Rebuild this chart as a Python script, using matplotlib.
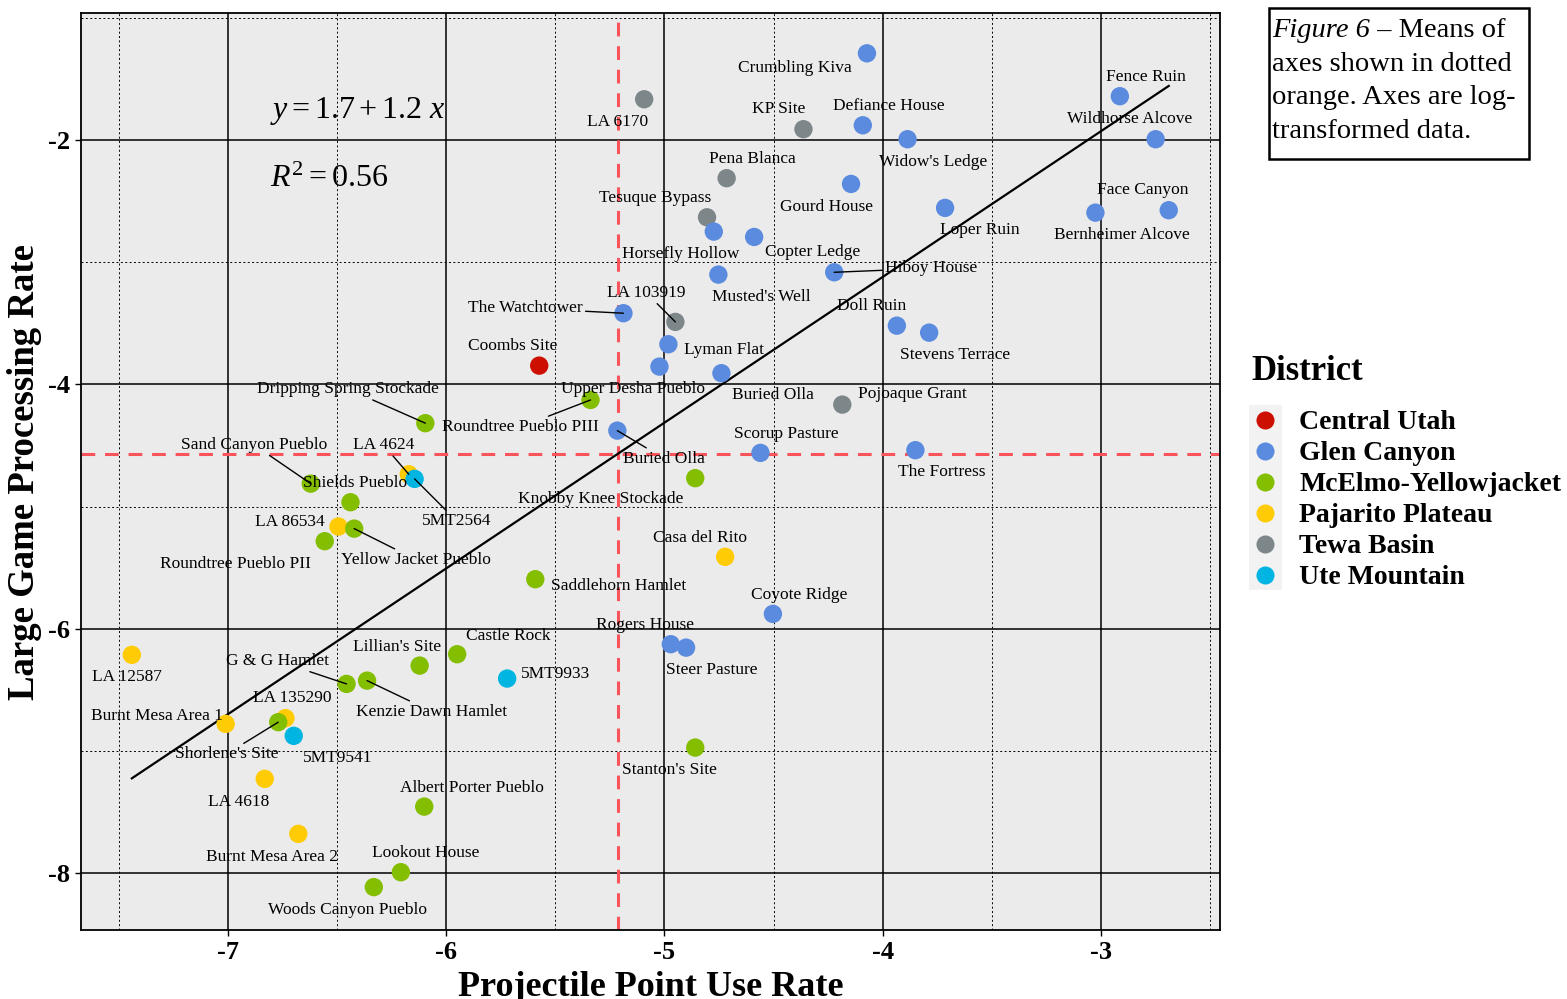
import numpy as np
import matplotlib
matplotlib.use("Agg")
import matplotlib.pyplot as plt
from matplotlib.ticker import MultipleLocator
from matplotlib.lines import Line2D
from matplotlib.patches import Rectangle

plt.rcParams["font.family"] = ["Liberation Serif", "DejaVu Serif"]
plt.rcParams["mathtext.fontset"] = "custom"
plt.rcParams["mathtext.rm"] = "Liberation Serif"
plt.rcParams["mathtext.it"] = "Liberation Serif:italic"

# --- data (log-transformed rates) ---
districts = ["Central Utah", "Glen Canyon", "McElmo-Yellowjacket",
             "Pajarito Plateau", "Tewa Basin", "Ute Mountain"]
district_colors = ["#CC0F00", "#5B8BDF", "#84BE00", "#FFCB05", "#7D878A", "#00B5E2"]

site_names = [
    "Crumbling Kiva", "Fence Ruin", "Defiance House", "Widow's Ledge", "Wildhorse Alcove",
    "Gourd House", "Loper Ruin", "Face Canyon", "Bernheimer Alcove", "Pena Blanca",
    "Tesuque Bypass", "Horsefly Hollow", "Copter Ledge", "Hiboy House", "Musted's Well",
    "LA 6170", "KP Site", "LA 103919", "The Watchtower", "Lyman Flat",
    "Upper Desha Pueblo", "Buried Olla", "Doll Ruin", "Stevens Terrace", "Pojoaque Grant",
    "Scorup Pasture", "The Fortress", "Buried Olla", "Roundtree Pueblo PIII",
    "Dripping Spring Stockade", "Coombs Site", "Knobby Knee Stockade", "Casa del Rito",
    "Saddlehorn Hamlet", "Coyote Ridge", "Rogers House", "Steer Pasture", "Stanton's Site",
    "5MT9933", "Sand Canyon Pueblo", "Shields Pueblo", "LA 4624", "5MT2564", "LA 86534",
    "Yellow Jacket Pueblo", "Roundtree Pueblo PII", "LA 12587", "Castle Rock",
    "Lillian's Site", "G & G Hamlet", "Kenzie Dawn Hamlet", "LA 135290", "Shorlene's Site",
    "Burnt Mesa Area 1", "5MT9541", "LA 4618", "Burnt Mesa Area 2", "Albert Porter Pueblo",
    "Lookout House", "Woods Canyon Pueblo",
]
site_district = [
    "Glen Canyon", "Glen Canyon", "Glen Canyon", "Glen Canyon", "Glen Canyon",
    "Glen Canyon", "Glen Canyon", "Glen Canyon", "Glen Canyon", "Tewa Basin",
    "Tewa Basin", "Glen Canyon", "Glen Canyon", "Glen Canyon", "Glen Canyon",
    "Tewa Basin", "Tewa Basin", "Tewa Basin", "Glen Canyon", "Glen Canyon",
    "Glen Canyon", "Glen Canyon", "Glen Canyon", "Glen Canyon", "Tewa Basin",
    "Glen Canyon", "Glen Canyon", "Glen Canyon", "McElmo-Yellowjacket",
    "McElmo-Yellowjacket", "Central Utah", "McElmo-Yellowjacket", "Pajarito Plateau",
    "McElmo-Yellowjacket", "Glen Canyon", "Glen Canyon", "Glen Canyon", "McElmo-Yellowjacket",
    "Ute Mountain", "McElmo-Yellowjacket", "McElmo-Yellowjacket", "Pajarito Plateau",
    "Ute Mountain", "Pajarito Plateau", "McElmo-Yellowjacket", "McElmo-Yellowjacket",
    "Pajarito Plateau", "McElmo-Yellowjacket", "McElmo-Yellowjacket", "McElmo-Yellowjacket",
    "McElmo-Yellowjacket", "Pajarito Plateau", "McElmo-Yellowjacket", "Pajarito Plateau",
    "Ute Mountain", "Pajarito Plateau", "Pajarito Plateau", "McElmo-Yellowjacket",
    "McElmo-Yellowjacket", "McElmo-Yellowjacket",
]
point_use = [
    -4.072, -2.913, -4.091, -3.886, -2.749, -4.145, -3.714, -2.689, -3.025, -4.715,
    -4.805, -4.774, -4.589, -4.222, -4.753, -5.093, -4.363, -4.950, -5.188, -4.982,
    -5.023, -4.739, -3.935, -3.787, -4.185, -4.560, -3.850, -5.216, -5.339, -6.096,
    -5.574, -4.859, -4.722, -5.592, -4.503, -4.971, -4.901, -4.859, -5.721, -6.621,
    -6.439, -6.172, -6.145, -6.494, -6.422, -6.557, -7.441, -5.950, -6.122, -6.457,
    -6.363, -6.737, -6.770, -7.011, -6.699, -6.832, -6.678, -6.101, -6.208, -6.332,
]
game_processing = [
    -1.291, -1.642, -1.880, -1.994, -1.994, -2.360, -2.556, -2.575, -2.595, -2.313,
    -2.633, -2.750, -2.794, -3.083, -3.102, -1.667, -1.912, -3.489, -3.418, -3.672,
    -3.855, -3.909, -3.520, -3.577, -4.166, -4.561, -4.539, -4.379, -4.128, -4.318,
    -3.847, -4.768, -5.412, -5.595, -5.879, -6.127, -6.155, -6.973, -6.408, -4.813,
    -4.965, -4.736, -4.774, -5.164, -5.181, -5.284, -6.214, -6.209, -6.302, -6.452,
    -6.425, -6.732, -6.765, -6.779, -6.877, -7.229, -7.679, -7.456, -7.993, -8.115,
]

# label placement: offset in pixels (right, down) and whether a leader segment is drawn
label_layout = [
    (-72, 15, 0), (26, -19, 0), (26, -19, 0), (26, 23, 0), (-26, -20, 0),
    (-25, 23, 0), (35, 22, 0), (-26, -20, 0), (26, 22, 0), (26, -19, 0),
    (-52, -19, 0), (-33, 22, 0), (58, 15, 0), (97, -4, 1), (43, 22, 0),
    (-27, 23, 0), (-25, -20, 0), (-29, -29, 1), (-98, -5, 1), (56, 6, 0),
    (-26, 22, 0), (52, 22, 0), (-25, -20, 0), (26, 22, 0), (70, -11, 0),
    (26, -19, 0), (26, 22, 0), (47, 28, 1), (-70, 27, 1), (-77, -34, 1),
    (-27, -20, 0), (-95, 21, 0), (-25, -19, 0), (83, 7, 0), (26, -19, 0),
    (-26, -19, 0), (26, 22, 0), (-26, 22, 0), (48, -5, 0), (-57, -39, 1),
    (5, -19, 0), (-25, -29, 1), (42, 42, 1), (-49, -5, 0), (62, 31, 1),
    (-89, 23, 0), (-5, 22, 0), (51, -18, 0), (-23, -19, 0), (-69, -23, 1),
    (65, 31, 1), (7, -20, 0), (-52, 32, 1), (-69, -8, 0), (44, 22, 0),
    (-26, 23, 0), (-26, 23, 0), (48, -19, 0), (25, -19, 0), (-26, 23, 0),
]

x = np.array(point_use)
y = np.array(game_processing)
color_of = dict(zip(districts, district_colors))

W, H = 1567, 999
fig = plt.figure(figsize=(W / 100, H / 100), dpi=100)
ax = fig.add_axes([81 / W, 1 - 930 / H, 1139 / W, 917 / H])
ax.set_facecolor("#EBEBEB")

ax.xaxis.set_major_locator(MultipleLocator(1))
ax.xaxis.set_minor_locator(MultipleLocator(0.5))
ax.yaxis.set_major_locator(MultipleLocator(2))
ax.yaxis.set_minor_locator(MultipleLocator(1))
ax.grid(which="major", color="black", lw=1.1, zorder=0)
ax.grid(which="minor", color="black", lw=0.7, linestyle=(0, (2, 2.5)), zorder=0)
ax.set_axisbelow(True)
for sp in ax.spines.values():
    sp.set_linewidth(1.3)

ax.tick_params(which="major", length=4, width=1, pad=4, labelsize=19)
ax.tick_params(which="minor", length=0)
ax.set_xlim(-7.674, -2.454)
ax.set_ylim(-8.466, -0.961)
xt = [-7, -6, -5, -4, -3]
yt = [-8, -6, -4, -2]
ax.set_xticks(xt)
ax.set_yticks(yt)
ax.set_xticklabels([str(t) for t in xt], fontweight="bold")
ax.set_yticklabels([str(t) for t in yt], fontweight="bold")
ax.set_xlim(-7.674, -2.454)
ax.set_ylim(-8.466, -0.961)

ax.set_xlabel("Projectile Point Use Rate", fontsize=26, fontweight="bold", labelpad=5)
ax.set_ylabel("Large Game Processing Rate", fontsize=26.5, fontweight="bold", labelpad=4)

# means of axes
ax.axvline(x.mean(), color="#F8545A", lw=2.2, dashes=(4.5, 3.2), zorder=1.5)
ax.axhline(y.mean(), color="#F8545A", lw=2.2, dashes=(4.5, 3.2), zorder=1.5)

# regression line
slope, intercept = np.polyfit(x, y, 1)
xs = np.array([x.min(), x.max()])
ax.plot(xs, intercept + slope * xs, color="black", lw=1.6, zorder=2)

ax.text(0.166, 0.8855, r"$y = 1.7 + 1.2\ x$", transform=ax.transAxes, fontsize=23,
        va="baseline", ha="left")
ax.text(0.166, 0.810, r"$R^{2} = 0.56$", transform=ax.transAxes, fontsize=23,
        va="baseline", ha="left")

ax.scatter(x, y, c=[color_of[d] for d in site_district], s=175, linewidths=0, zorder=3)

for name, xi, yi, (dx, dy, seg) in zip(site_names, x, y, label_layout):
    arrow = dict(arrowstyle="-", color="black", lw=1, shrinkA=0, shrinkB=0) if seg else None
    ax.annotate(name, xy=(xi, yi), xytext=(dx, -dy), textcoords="offset pixels",
                ha="center", va="center", fontsize=12.5, zorder=4, arrowprops=arrow)

# caption box
fig.patches.append(Rectangle((1269 / W, 1 - 159 / H), 260 / W, 151 / H,
                             transform=fig.transFigure, fill=False, lw=1.8,
                             edgecolor="black"))
renderer = fig.canvas.get_renderer()
cap_size = 20.5
fig_tag = fig.text(1272 / W, 1 - 37 / H, "Figure 6", fontsize=cap_size,
                   style="italic", va="baseline")
tag_end = fig_tag.get_window_extent(renderer=renderer).x1 / W
fig.text(tag_end, 1 - 37 / H, " – Means of", fontsize=cap_size, va="baseline")
caption = ["axes shown in dotted", "orange. Axes are log-", "transformed data."]
for i, line in enumerate(caption, start=1):
    fig.text(1272 / W, 1 - (37 + 33.7 * i) / H, line, fontsize=cap_size, va="baseline")

# legend
fig.text(1251 / W, 1 - 380 / H, "District", fontsize=25, fontweight="bold",
         va="baseline")
fig.patches.append(Rectangle((1249 / W, 1 - 590 / H), 33 / W, 185 / H,
                             transform=fig.transFigure, color="#F2F2F2", lw=0))
for i, (d, c) in enumerate(zip(districts, district_colors)):
    yc = 1 - (420 + 31 * i) / H
    fig.add_artist(Line2D([1265 / W], [yc], marker="o", markersize=13,
                          color=c, markeredgewidth=0, transform=fig.transFigure))
    fig.text(1299 / W, 1 - (429 + 31 * i) / H, d, fontsize=20,
             fontweight="bold", va="baseline")

fig.savefig("out.png", dpi=100)
